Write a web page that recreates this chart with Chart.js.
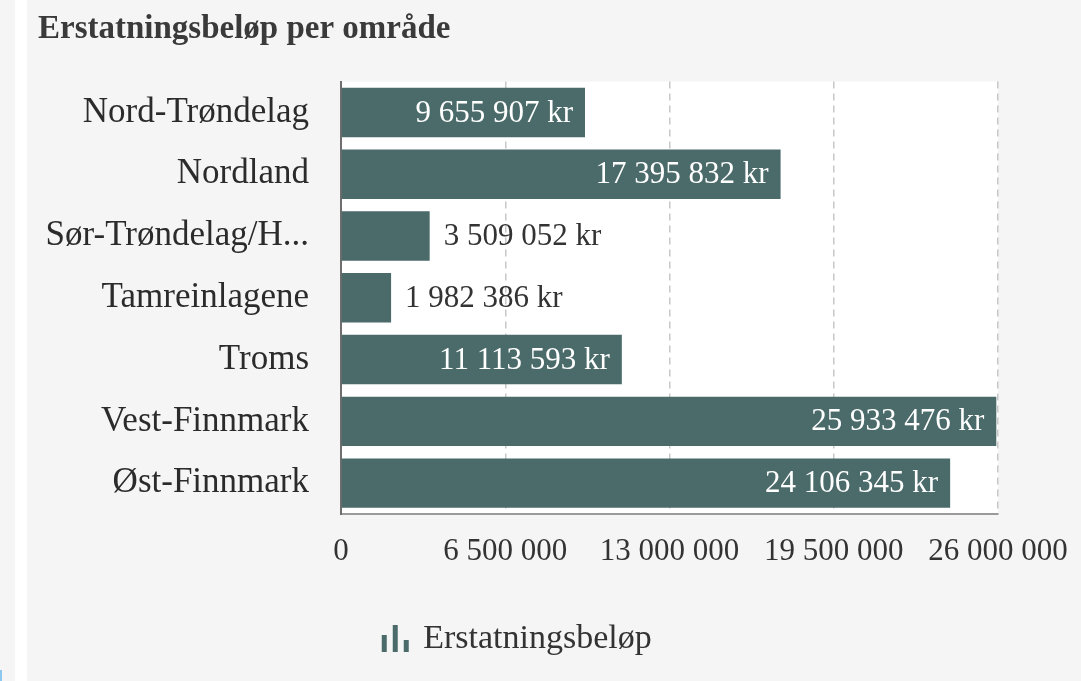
<!DOCTYPE html>
<html>
<head>
<meta charset="utf-8">
<script src="https://cdn.jsdelivr.net/npm/chart.js@4.4.1/dist/chart.umd.min.js"></script>
<style>
  html, body { margin: 0; padding: 0; background: #f5f5f5; overflow: hidden; }
  #wrap { position: relative; width: 1081px; height: 681px; }
  #strip { position: absolute; left: 15px; top: 0; width: 12px; height: 681px; background: #ffffff; }
  #corner { position: absolute; left: 0; top: 670px; width: 2px; height: 11px; background: #8cc8f0; }
  canvas { position: absolute; left: 0; top: 0; }
</style>
</head>
<body>
<div id="wrap">
  <div id="strip"></div>
  <div id="corner"></div>
  <canvas id="c" width="1081" height="681"></canvas>
</div>
<script>
const titleText = "Erstatningsbeløp per område";
const seriesName = "Erstatningsbeløp";
const categories = ["Nord-Trøndelag", "Nordland", "Sør-Trøndelag/H...", "Tamreinlagene", "Troms", "Vest-Finnmark", "Øst-Finnmark"];
const values = [9655907, 17395832, 3509052, 1982386, 11113593, 25933476, 24106345];
const xTicks = [0, 6500000, 13000000, 19500000, 26000000];

const FONT = "'Liberation Serif', 'DejaVu Serif', serif";
const BAR = "#4a6b6a";

function fmt(n) {
  return String(Math.round(n)).replace(/\B(?=(\d{3})+(?!\d))/g, " ");
}

// legend icon
const icon = document.createElement("canvas");
icon.width = 29; icon.height = 28;
(function () {
  const g = icon.getContext("2d");
  g.fillStyle = BAR;
  g.fillRect(1, 10, 5, 17);
  g.fillRect(12, 0, 5, 27);
  g.fillRect(23, 15, 5, 12);
})();

const bgPlugin = {
  id: "plotBg",
  beforeDraw(chart) {
    const a = chart.chartArea, ctx = chart.ctx;
    ctx.save();
    ctx.fillStyle = "#ffffff";
    ctx.fillRect(a.left, a.top, a.right - a.left, a.bottom - a.top);
    ctx.restore();
  }
};

const labelPlugin = {
  id: "barLabels",
  afterDatasetsDraw(chart) {
    const ctx = chart.ctx;
    const meta = chart.getDatasetMeta(0);
    ctx.save();
    ctx.font = "31px " + FONT;
    ctx.textBaseline = "middle";
    meta.data.forEach((el, i) => {
      const txt = fmt(chart.data.datasets[0].data[i]) + " kr";
      const w = ctx.measureText(txt).width;
      const barW = el.x - el.base;
      if (w + 24 < barW) {
        ctx.fillStyle = "#ffffff";
        ctx.textAlign = "right";
        ctx.fillText(txt, el.x - 12, el.y + 1);
      } else {
        ctx.fillStyle = "#333333";
        ctx.textAlign = "left";
        ctx.fillText(txt, el.x + 14, el.y + 1);
      }
    });
    ctx.restore();
  }
};

new Chart(document.getElementById("c"), {
  type: "bar",
  data: {
    labels: categories,
    datasets: [{
      label: seriesName,
      data: values,
      backgroundColor: BAR,
      borderWidth: 0,
      barPercentage: 0.8,
      categoryPercentage: 1.0
    }]
  },
  options: {
    indexAxis: "y",
    responsive: false,
    animation: false,
    layout: { padding: { left: 38, right: 83, top: 10, bottom: 15 } },
    scales: {
      x: {
        min: 0,
        max: 26000000,
        afterBuildTicks(scale) { scale.ticks = xTicks.map(v => ({ value: v })); },
        ticks: {
          padding: 19,
          color: "#333333",
          font: { family: FONT, size: 31 },
          callback: (v) => fmt(v),
          maxRotation: 0
        },
        grid: {
          color: (c) => (c.tick && c.tick.value === 0) ? "rgba(0,0,0,0)" : "#c8c8c8",
          lineWidth: 1.5,
          drawTicks: false
        },
        border: { display: true, color: "#9a9a9a", width: 2, dash: [7, 5] },
        afterFit(scale) {
          scale.height = 98;
          scale.paddingLeft = 0;
          scale.paddingRight = 0;
        }
      },
      y: {
        ticks: {
          padding: 32,
          color: "#2b2b2b",
          font: { family: FONT, size: 35 }
        },
        grid: { display: false, drawTicks: false },
        border: { display: true, color: "#6e6e6e", width: 2 },
        afterFit(scale) { scale.width = 341 - 38; }
      }
    },
    plugins: {
      title: {
        display: true,
        text: titleText,
        align: "start",
        color: "#3a3a3a",
        font: { family: FONT, size: 33, weight: "bold" },
        padding: { top: 0, bottom: 32 }
      },
      legend: {
        display: true,
        position: "bottom",
        labels: {
          usePointStyle: true,
          pointStyle: icon,
          pointStyleWidth: 22,
          color: "#333333",
          font: { family: FONT, size: 34 },
          padding: 10
        }
      },
      tooltip: { enabled: false }
    }
  },
  plugins: [bgPlugin, labelPlugin]
});
</script>
</body>
</html>
